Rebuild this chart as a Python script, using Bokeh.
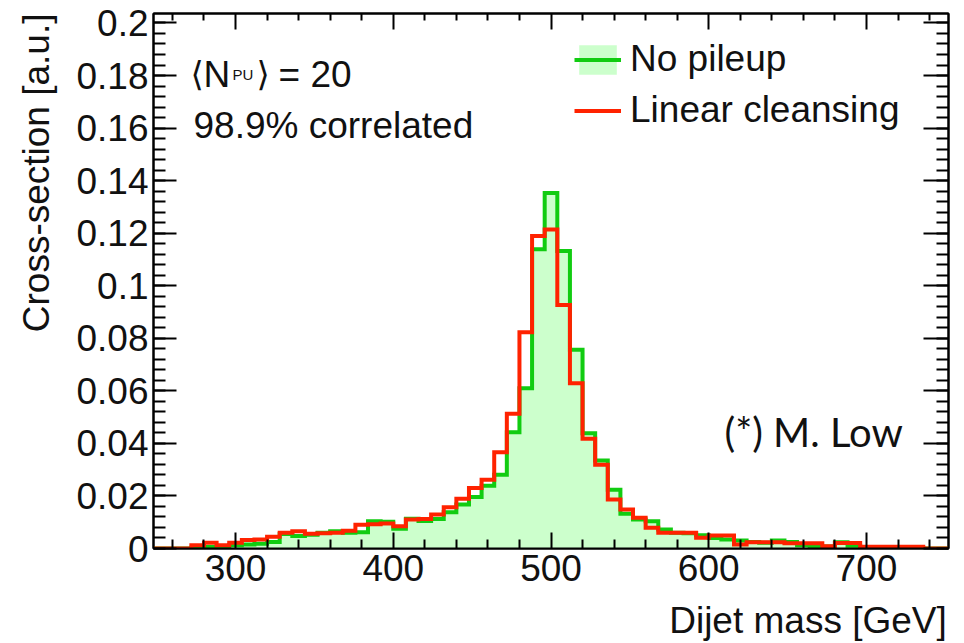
import math
from bokeh.plotting import figure
from bokeh.models import (FixedTicker, LinearAxis, Label, Legend, LegendItem,
                          CustomJSTickFormatter, Range1d, Title)
from bokeh.embed import file_html
from bokeh.resources import INLINE

# ---------------- data ----------------
bin_edges = [248, 256, 264, 272, 280, 288, 296, 304, 312, 320, 328, 336, 344, 352,
             360, 368, 376, 384, 392, 400, 408, 416, 424, 432, 440, 448, 456, 464,
             472, 480, 488, 496, 504, 512, 520, 528, 536, 544, 552, 560, 568, 576,
             584, 592, 600, 608, 616, 624, 632, 640, 648, 656, 664, 672, 680, 688,
             696, 704, 712, 720, 728, 736, 744, 752]

no_pileup = [0, 0, 0, 0.0003, 0.0006, 0.0008, 0.0012, 0.0015, 0.0018, 0.0025,
             0.0055, 0.0048, 0.0052, 0.0060, 0.0066, 0.0060, 0.0062, 0.0104, 0.0102, 0.0075,
             0.0113, 0.0105, 0.0112, 0.0138, 0.0167, 0.0196, 0.0239, 0.0281, 0.0442, 0.0610,
             0.1139, 0.1353, 0.1132, 0.0756, 0.0439, 0.0335, 0.0224, 0.0132, 0.0110, 0.0104,
             0.0072, 0.0060, 0.0058, 0.0050, 0.0040, 0.0034, 0.0030, 0.0025, 0.0022, 0.0030,
             0.0025, 0.0012, 0.0008, 0.0008, 0.0024, 0.0010, 0.0004, 0.0004, 0.0003, 0.0003,
             0.0002, 0, 0]

linear_cleansing = [0, 0, 0, 0.0012, 0.0022, 0.0012, 0.0022, 0.0032, 0.0034, 0.0045,
                    0.0060, 0.0066, 0.0056, 0.0058, 0.0060, 0.0068, 0.0090, 0.0092, 0.0095, 0.0085,
                    0.0110, 0.0112, 0.0129, 0.0157, 0.0189, 0.0230, 0.0262, 0.0366, 0.0513, 0.0823,
                    0.1189, 0.1214, 0.0927, 0.0629, 0.0418, 0.0319, 0.0186, 0.0148, 0.0117, 0.0079,
                    0.0060, 0.0060, 0.0060, 0.0041, 0.0049, 0.0049, 0.0015, 0.0024, 0.0024, 0.0024,
                    0.0020, 0.0020, 0.0020, 0.0009, 0.0021, 0.0021, 0.0007, 0.0007, 0.0007, 0.0007,
                    0.0007, 0, 0]

x_ticks = [300, 400, 500, 600, 700]
x_minor = [260, 280, 320, 340, 360, 380, 420, 440, 460, 480, 520, 540, 560, 580,
           620, 640, 660, 680, 720, 740]
y_ticks = [0, 0.02, 0.04, 0.06, 0.08, 0.1, 0.12, 0.14, 0.16, 0.18, 0.2]
y_minor = [i * 0.004 for i in range(51)]

x_title = "Dijet mass [GeV]"
y_title = "Cross-section [a.u.]"

# ---------------- geometry ----------------
W, H = 964, 643
FL, FR, FT, FB = 153, 948, 13, 549
X0, X1 = 248, 752
Y0, Y1 = 0, 0.2036


def dx(px):
    return X0 + (px - FL) * (X1 - X0) / (FR - FL)


def dy(py):
    return Y0 + (FB - py) * (Y1 - Y0) / (FB - FT)


p = figure(width=W, height=H, output_backend="svg", toolbar_location=None,
           x_range=Range1d(X0, X1), y_range=Range1d(Y0, Y1),
           min_border_left=FL, min_border_right=W - FR,
           min_border_top=FT, min_border_bottom=H - FB)
p.grid.visible = False
p.outline_line_color = "black"
p.outline_line_width = 2
p.background_fill_color = "white"
p.border_fill_color = "white"

green_ext = no_pileup + [no_pileup[-1]]
red_ext = linear_cleansing + [linear_cleansing[-1]]

fill_r = p.varea_step(x=bin_edges, y1=[0] * len(bin_edges), y2=green_ext,
                      step_mode="after", fill_color="#ccffcc")
green_r = p.step(x=bin_edges, y=green_ext, mode="after", line_color="#11cc11",
                 line_width=4, line_join="miter")
red_r = p.step(x=bin_edges, y=red_ext, mode="after", line_color="#ff2200",
               line_width=4, line_join="miter")

FONT = "Liberation Sans"
TXT = "#111111"
blank = CustomJSTickFormatter(code="return '';")


def style_axis(ax, ticker, maj_in, min_in, labels=True):
    ax.ticker = ticker
    ax.major_tick_in = maj_in
    ax.major_tick_out = 0
    ax.minor_tick_in = min_in
    ax.minor_tick_out = 0
    ax.major_tick_line_width = 2
    ax.minor_tick_line_width = 2
    ax.axis_line_width = 2
    ax.major_tick_line_color = "black"
    ax.minor_tick_line_color = "black"
    ax.axis_line_color = "black"
    ax.major_label_text_font = FONT
    ax.major_label_text_font_size = "37px"
    ax.major_label_text_color = TXT
    if not labels:
        ax.formatter = blank
        ax.major_label_standoff = 0


xt = FixedTicker(ticks=x_ticks, minor_ticks=x_minor)
yt = FixedTicker(ticks=y_ticks, minor_ticks=y_minor)

xa = p.xaxis[0]
style_axis(xa, xt, 16, 9)
xa.major_label_standoff = 6
ya = p.yaxis[0]
style_axis(ya, yt, 23, 12)
ya.major_label_standoff = 5
ya.formatter = CustomJSTickFormatter(code="return String(Math.round(tick*1000)/1000);")

top = LinearAxis()
style_axis(top, FixedTicker(ticks=x_ticks, minor_ticks=x_minor), 16, 7, labels=False)
p.add_layout(top, "above")
right = LinearAxis()
style_axis(right, FixedTicker(ticks=y_ticks, minor_ticks=y_minor), 25, 12, labels=False)
p.add_layout(right, "right")

# x axis title, pushed to the right end of the axis (ROOT style) with
# non-breaking padding so that the centred label ends at the frame edge
xa.axis_label = "\u00a0" * 50 + x_title
xa.axis_label_standoff = 16
xa.axis_label_text_font = FONT
xa.axis_label_text_font_size = "37px"
xa.axis_label_text_font_style = "normal"
xa.axis_label_text_color = TXT

p.add_layout(Title(text=y_title, align="right", vertical_align="top",
                   standoff=30, offset=0, text_font=FONT, text_font_size="37px",
                   text_font_style="normal", text_color=TXT), "left")

legend = Legend(items=[LegendItem(label="No pileup", renderers=[fill_r, green_r]),
                       LegendItem(label="Linear cleansing", renderers=[red_r])],
                location=(574 - FL, FB - 132), glyph_width=47, glyph_height=37,
                label_standoff=9, spacing=9, padding=0, margin=0, label_height=37,
                label_text_font=FONT, label_text_font_size="37px", label_text_color=TXT,
                border_line_alpha=0, background_fill_alpha=0)
p.add_layout(legend)


def lab(text, px, py, size="37px", font=FONT):
    p.add_layout(Label(x=dx(px), y=dy(py), text=text, text_font=font,
                       text_font_size=size, text_color=TXT,
                       text_baseline="alphabetic"))


lab("\u27e8", 190, 74, size="34px", font="DejaVu Sans")
lab("N", 203, 74)
lab("PU", 232, 74, size="15px")
lab("\u27e9", 256, 74, size="34px", font="DejaVu Sans")
lab("= 20", 278, 74)
lab("98.9% correlated", 193, 125)
lab("(*) M. Low", 724, 432, size="40px", font="Lato")

open("out.html", "w").write(file_html(p, INLINE))
